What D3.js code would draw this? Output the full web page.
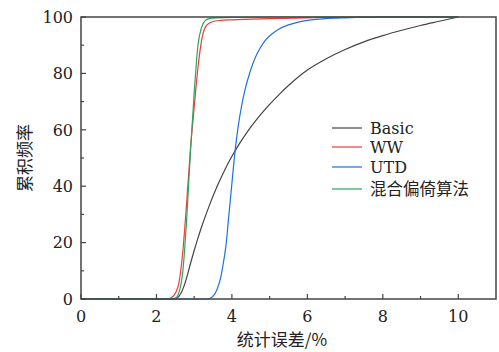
<!DOCTYPE html>
<html>
<head>
<meta charset="utf-8">
<script src="https://cdn.jsdelivr.net/npm/d3@7/dist/d3.min.js"></script>
<style>
  body { margin: 0; background: #fff; }
  svg text { font-family: "DejaVu Serif", serif; fill: #222; }
  .cjk { font-family: "Noto Sans CJK SC", sans-serif; }
</style>
</head>
<body>
<svg id="chart" width="499" height="352"></svg>
<script>
const xTicks = [0, 2, 4, 6, 8, 10]
const yTicks = [0, 20, 40, 60, 80, 100]
const seriesNames = ['Basic', 'WW', 'UTD', '混合偏倚算法']
const seriesColors = ['#444444', '#ee3b3b', '#1f6fe5', '#2aa65a']

// [误差, 累积频率]
const basic = [[0,0],[2.5,0],[2.6,1],[2.7,3.5],[2.8,7.5],[2.9,12.5],[3.0,17.2],[3.1,21.6],
  [3.2,25.7],[3.4,33.1],[3.6,39.7],[3.8,45.5],[4.0,50.6],[4.2,55.1],[4.4,59.1],[4.6,62.7],
  [4.8,66.0],[5.0,69.0],[5.25,72.5],[5.5,75.7],[6.0,81.2],[6.5,85.2],[7.0,88.5],[7.5,91.2],
  [8.0,93.4],[8.5,95.3],[9.0,97.0],[9.5,98.5],[10,100]]
const ww = [[0,0],[2.3,0],[2.4,0.5],[2.5,2],[2.6,6],[2.7,17],[2.8,34],[2.9,53],[3.0,68],[3.1,82],
  [3.2,92],[3.3,96.5],[3.4,97.8],[3.5,98.4],[3.7,98.8],[4,99],[5,99.4],[6,99.7],[7,100],[10,100]]
const utd = [[0,0],[3.35,0],[3.42,0.2],[3.5,1],[3.6,3.2],[3.7,7.5],[3.77,12.5],[3.85,19.8],
  [3.9,27],[4.0,41],[4.08,52],[4.17,61.5],[4.25,68],[4.35,74.3],[4.48,80.5],[4.62,85.6],
  [4.75,89],[4.88,91.6],[5.05,93.9],[5.23,95.6],[5.5,97.2],[5.76,98.2],[6.1,99],[6.47,99.4],
  [7,99.7],[8,100],[10,100]]
const mixed = [[0,0],[2.4,0],[2.5,0.3],[2.6,2.5],[2.7,10],[2.8,28],[2.9,52],[3.0,73],[3.1,90],
  [3.2,96.5],[3.3,98.8],[3.4,99.4],[3.6,99.7],[4,99.9],[5,100],[10,100]]
const allSeries = [basic, ww, utd, mixed]

const margin = { left: 81, right: 3, top: 17, bottom: 53 }
const width = 499, height = 352

const svg = d3.select('#chart')
const x = d3.scaleLinear().domain([0, 11]).range([margin.left, width - margin.right])
const y = d3.scaleLinear().domain([0, 100]).range([height - margin.bottom, margin.top])

const line = d3.line().x(d => x(d[0])).y(d => y(d[1])).curve(d3.curveMonotoneX)

svg.append('g')
  .selectAll('path')
  .data(allSeries)
  .join('path')
  .attr('d', line)
  .attr('fill', 'none')
  .attr('stroke', (d, i) => seriesColors[i])
  .attr('stroke-width', 1.2)

// frame
const frameColor = '#444'
svg.append('rect')
  .attr('x', x(0)).attr('y', y(100))
  .attr('width', x(11) - x(0)).attr('height', y(0) - y(100))
  .attr('fill', 'none').attr('stroke', frameColor).attr('stroke-width', 1.5)

// ticks (inside)
const xAxis = svg.append('g').attr('transform', `translate(0,${y(0)})`)
xAxis.selectAll('line.major').data(xTicks).join('line')
  .attr('x1', d => x(d)).attr('x2', d => x(d)).attr('y1', 0).attr('y2', -5)
  .attr('stroke', frameColor).attr('stroke-width', 1.2)
xAxis.selectAll('line.minor').data(d3.range(1, 11, 2)).join('line')
  .attr('class', 'minor')
  .attr('x1', d => x(d)).attr('x2', d => x(d)).attr('y1', 0).attr('y2', -3)
  .attr('stroke', frameColor).attr('stroke-width', 1.2)
xAxis.selectAll('text').data(xTicks).join('text')
  .attr('x', d => x(d)).attr('y', 23)
  .attr('text-anchor', 'middle').attr('font-size', 16)
  .text(d => d)

const yAxis = svg.append('g').attr('transform', `translate(${x(0)},0)`)
yAxis.selectAll('line.major').data(yTicks).join('line')
  .attr('y1', d => y(d)).attr('y2', d => y(d)).attr('x1', 0).attr('x2', 5)
  .attr('stroke', frameColor).attr('stroke-width', 1.2)
yAxis.selectAll('line.minor').data(d3.range(10, 100, 20)).join('line')
  .attr('class', 'minor')
  .attr('y1', d => y(d)).attr('y2', d => y(d)).attr('x1', 0).attr('x2', 3)
  .attr('stroke', frameColor).attr('stroke-width', 1.2)
yAxis.selectAll('text').data(yTicks).join('text')
  .attr('x', -8).attr('y', d => y(d)).attr('dy', '0.36em')
  .attr('text-anchor', 'end').attr('font-size', 16)
  .text(d => d)

// axis titles
svg.append('text').attr('class', 'cjk')
  .attr('x', 282).attr('y', 346)
  .attr('text-anchor', 'middle').attr('font-size', 17)
  .text('统计误差/%')
svg.append('text').attr('class', 'cjk')
  .attr('transform', 'translate(31,158) rotate(-90)')
  .attr('text-anchor', 'middle').attr('font-size', 17)
  .text('累积频率')

// legend
const legendRowY = [0, 19, 39, 61]
const legend = svg.append('g').attr('transform', 'translate(332,128)')
const rows = legend.selectAll('g').data(seriesNames).join('g')
  .attr('transform', (d, i) => `translate(0,${legendRowY[i]})`)
rows.append('line').attr('x1', 0).attr('x2', 30).attr('y1', 0).attr('y2', 0)
  .attr('stroke', (d, i) => seriesColors[i]).attr('stroke-width', 1.2)
rows.append('text').attr('x', 38).attr('y', 0).attr('dy', '0.36em')
  .attr('font-size', (d, i) => i === 3 ? 16.5 : 16)
  .attr('class', (d, i) => i === 3 ? 'cjk' : null)
  .text(d => d)
</script>
</body>
</html>
